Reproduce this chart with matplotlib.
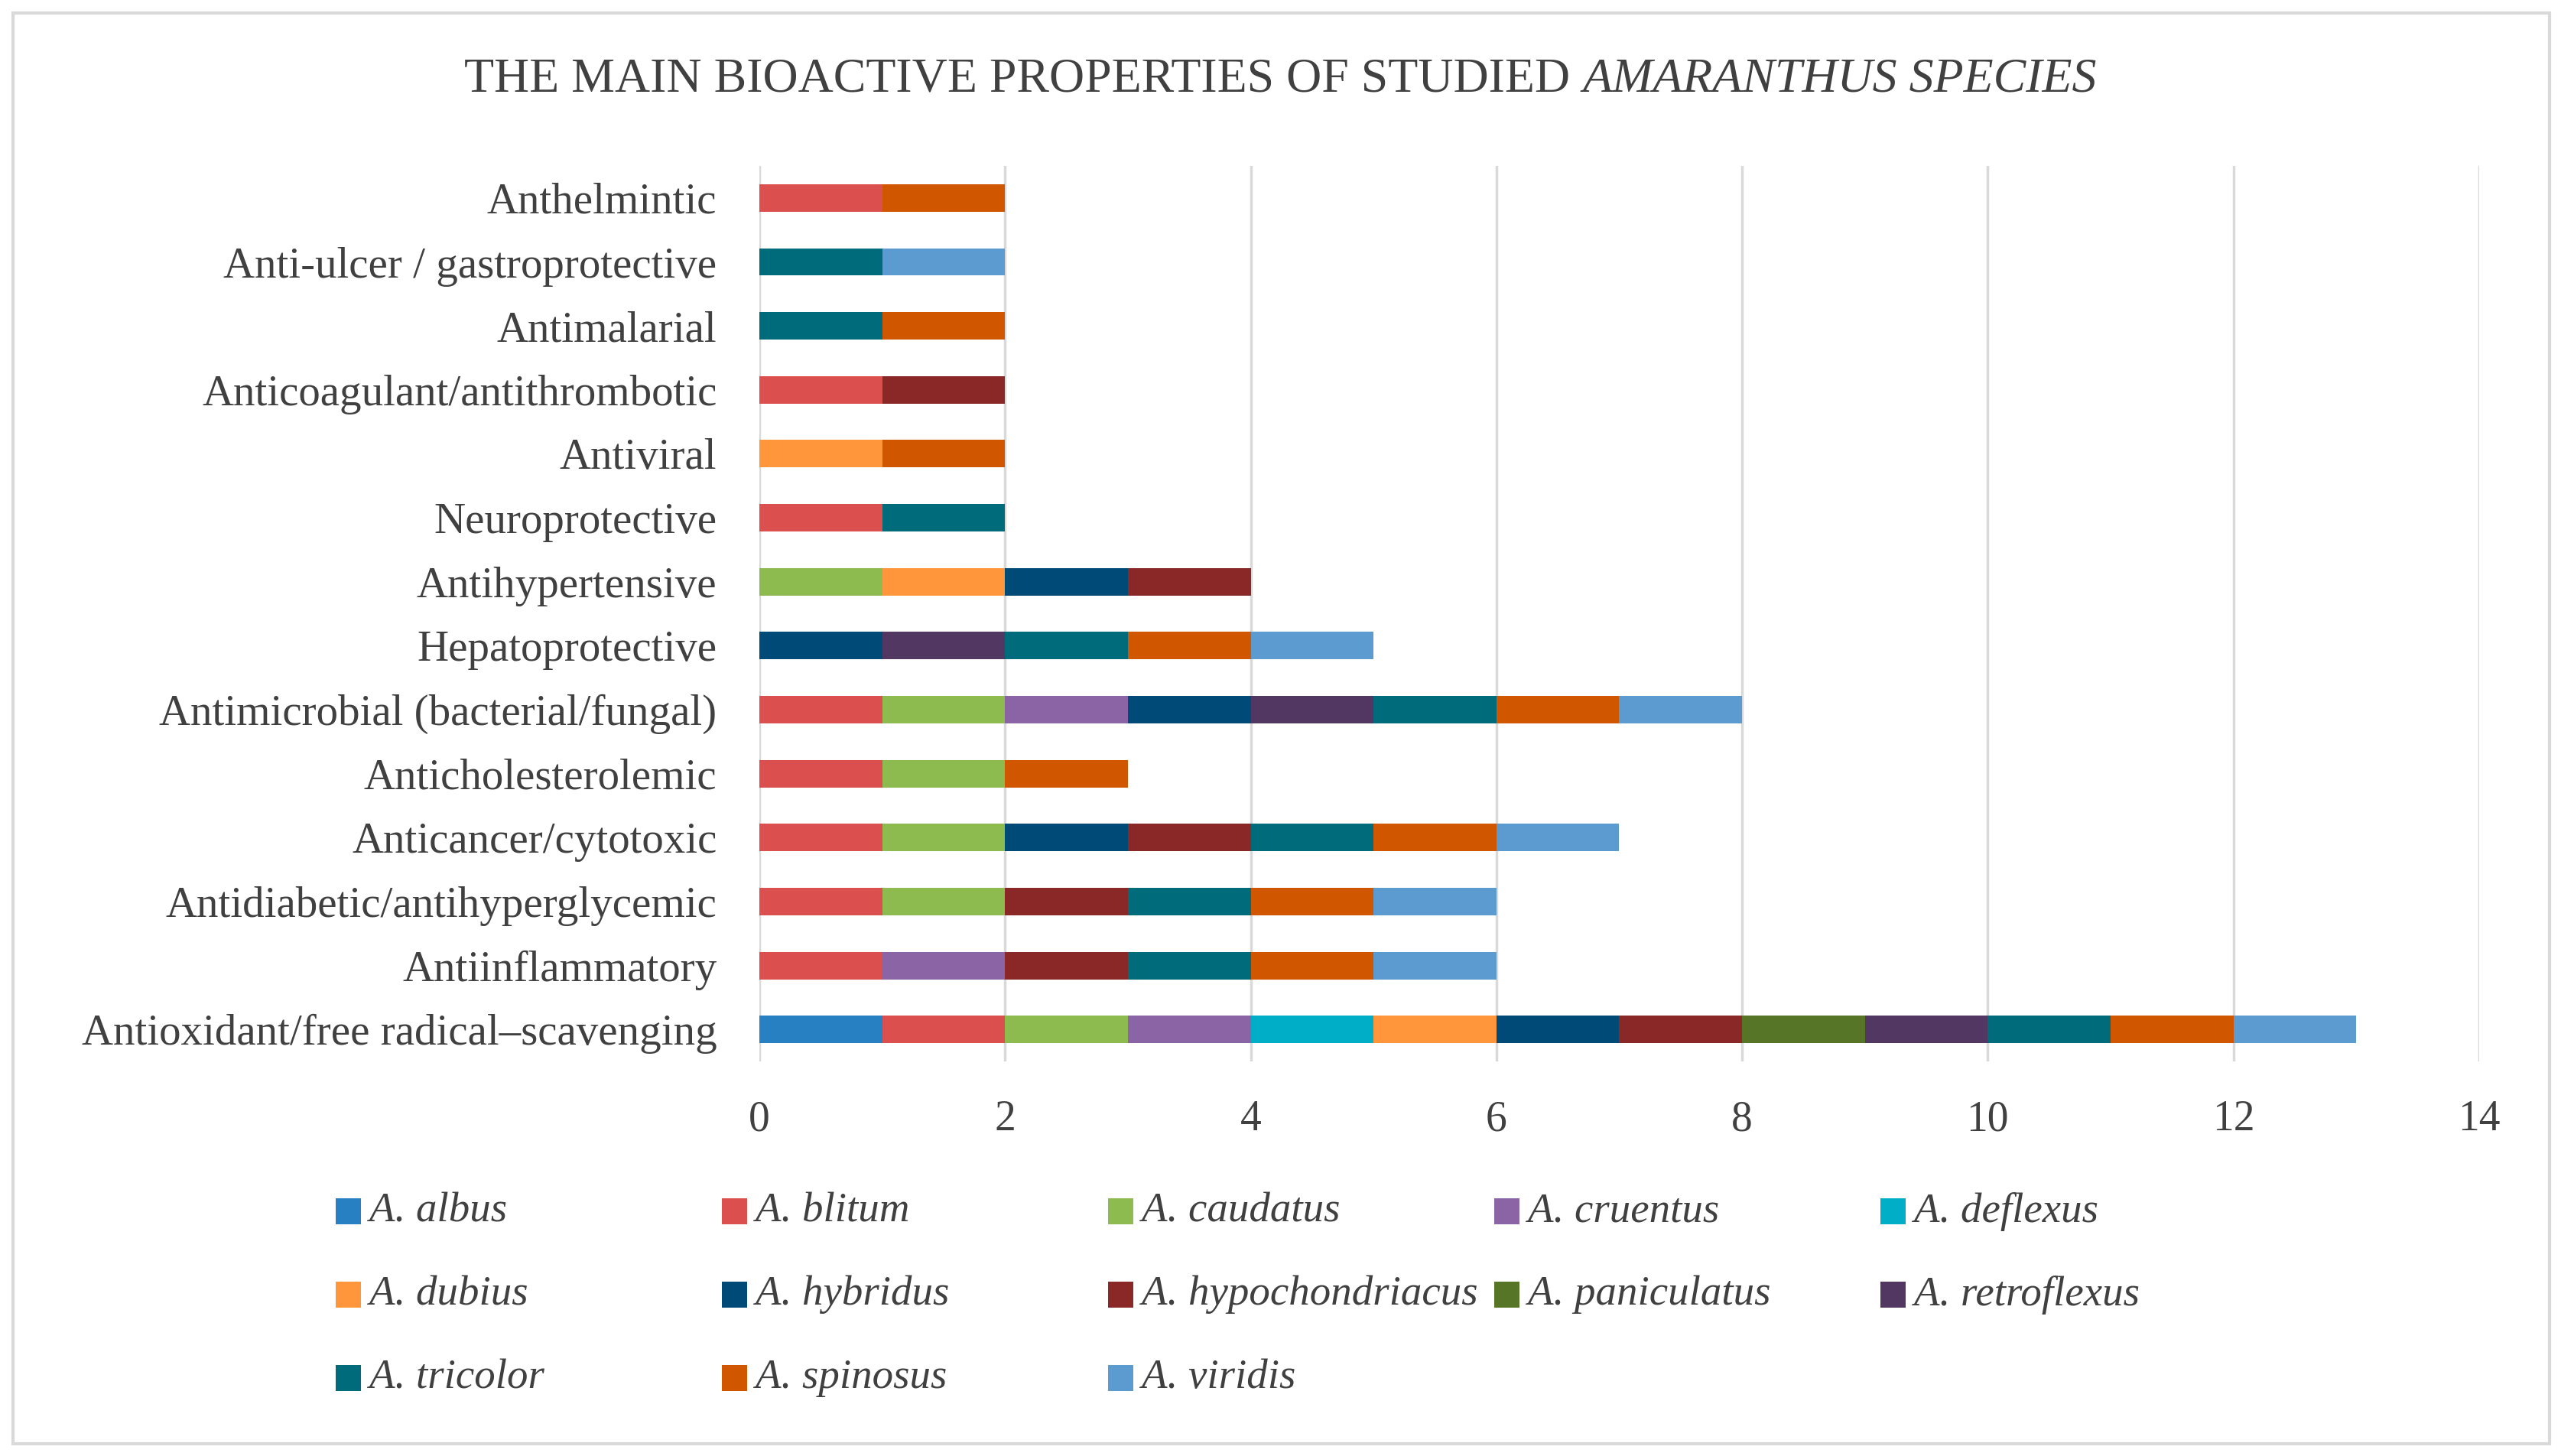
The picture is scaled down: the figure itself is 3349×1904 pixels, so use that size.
import numpy as np
import matplotlib
matplotlib.use('Agg')
import matplotlib.pyplot as plt
from matplotlib.patches import Rectangle

plt.rcParams['font.family'] = ['Liberation Serif', 'DejaVu Serif']

# categories, bottom to top
categories = ['Antioxidant/free radical\u2013scavenging', 'Antiinflammatory',
              'Antidiabetic/antihyperglycemic', 'Anticancer/cytotoxic',
              'Anticholesterolemic', 'Antimicrobial (bacterial/fungal)',
              'Hepatoprotective', 'Antihypertensive', 'Neuroprotective',
              'Antiviral', 'Anticoagulant/antithrombotic', 'Antimalarial',
              'Anti-ulcer / gastroprotective', 'Anthelmintic']

species = ['A. albus', 'A. blitum', 'A. caudatus', 'A. cruentus', 'A. deflexus',
           'A. dubius', 'A. hybridus', 'A. hypochondriacus', 'A. paniculatus',
           'A. retroflexus', 'A. tricolor', 'A. spinosus', 'A. viridis']

# one value per category (same order as categories)
albus           = [1, 0, 0, 0, 0, 0, 0, 0, 0, 0, 0, 0, 0, 0]
blitum          = [1, 1, 1, 1, 1, 1, 0, 0, 1, 0, 1, 0, 0, 1]
caudatus        = [1, 0, 1, 1, 1, 1, 0, 1, 0, 0, 0, 0, 0, 0]
cruentus        = [1, 1, 0, 0, 0, 1, 0, 0, 0, 0, 0, 0, 0, 0]
deflexus        = [1, 0, 0, 0, 0, 0, 0, 0, 0, 0, 0, 0, 0, 0]
dubius          = [1, 0, 0, 0, 0, 0, 0, 1, 0, 1, 0, 0, 0, 0]
hybridus        = [1, 0, 0, 1, 0, 1, 1, 1, 0, 0, 0, 0, 0, 0]
hypochondriacus = [1, 1, 1, 1, 0, 0, 0, 1, 0, 0, 1, 0, 0, 0]
paniculatus     = [1, 0, 0, 0, 0, 0, 0, 0, 0, 0, 0, 0, 0, 0]
retroflexus     = [1, 0, 0, 0, 0, 1, 1, 0, 0, 0, 0, 0, 0, 0]
tricolor        = [1, 1, 1, 1, 0, 1, 1, 0, 1, 0, 0, 1, 1, 0]
spinosus        = [1, 1, 1, 1, 1, 1, 1, 0, 0, 1, 0, 1, 0, 1]
viridis         = [1, 1, 1, 1, 0, 1, 1, 0, 0, 0, 0, 0, 1, 0]

series = [albus, blitum, caudatus, cruentus, deflexus, dubius, hybridus,
          hypochondriacus, paniculatus, retroflexus, tricolor, spinosus, viridis]

colors = ['#2680C2', '#DB4F4F', '#8DBB4F', '#8B64A6', '#00AEC7', '#FF963C',
          '#004A77', '#8A2727', '#567527', '#513761', '#006B7A', '#D05600',
          '#5C9BCF']

text_col = '#404040'
grid_col = '#D9D9D9'

fig = plt.figure(figsize=(33.49, 19.04), dpi=100)
ax = fig.add_axes([0.2965, 0.271, 0.6715, 0.615])

y = np.arange(len(categories))
left = np.zeros(len(categories))
for vals, col, name in zip(series, colors, species):
    vals = np.array(vals, dtype=float)
    ax.barh(y, vals, left=left, height=0.43, color=col, linewidth=0, label=name, zorder=3)
    left += vals

ax.set_xlim(0, 14)
ax.set_ylim(-0.5, len(categories) - 0.5)
ax.set_xticks(range(0, 15, 2))
ax.set_yticks(y)
ax.set_yticklabels(categories)
ax.tick_params(axis='both', length=0, colors=text_col)
ax.tick_params(axis='x', pad=36, labelsize=40)
ax.tick_params(axis='y', pad=40, labelsize=41)
ax.grid(axis='x', color=grid_col, linewidth=2.5, zorder=0)
for s in ax.spines.values():
    s.set_visible(False)

# title with italic genus part
t1 = fig.text(0.5, 0.945, 'THE MAIN BIOACTIVE PROPERTIES OF STUDIED ', fontsize=46,
              color=text_col, ha='right', va='center')
t2 = fig.text(0.5, 0.945, 'AMARANTHUS SPECIES', fontsize=46, color=text_col,
              style='italic', ha='left', va='center')
fig.canvas.draw()
r = fig.canvas.get_renderer()
w1 = t1.get_window_extent(r).width / fig.bbox.width
w2 = t2.get_window_extent(r).width / fig.bbox.width
t1.set_x(0.5 - (w1 + w2) / 2 + w1)
t2.set_x(0.5 - (w1 + w2) / 2 + w1)

# legend laid out in 5 columns, row by row
for i, (name, col) in enumerate(zip(species, colors)):
    row, c = divmod(i, 5)
    lx = 0.1311 + c * 0.1508
    ly = 0.168 - row * 0.0572
    fig.add_artist(Rectangle((lx, ly - 0.009), 0.0097, 0.018, transform=fig.transFigure,
                             color=col, linewidth=0))
    fig.text(lx + 0.013, ly, name, fontsize=39.5, style='italic', color=text_col,
             ha='left', va='center')

# chart border
fig.add_artist(Rectangle((0.0052, 0.0084), 0.9902, 0.9827, transform=fig.transFigure,
                         fill=False, edgecolor=grid_col, linewidth=3))

fig.savefig('out.png', dpi=100)
